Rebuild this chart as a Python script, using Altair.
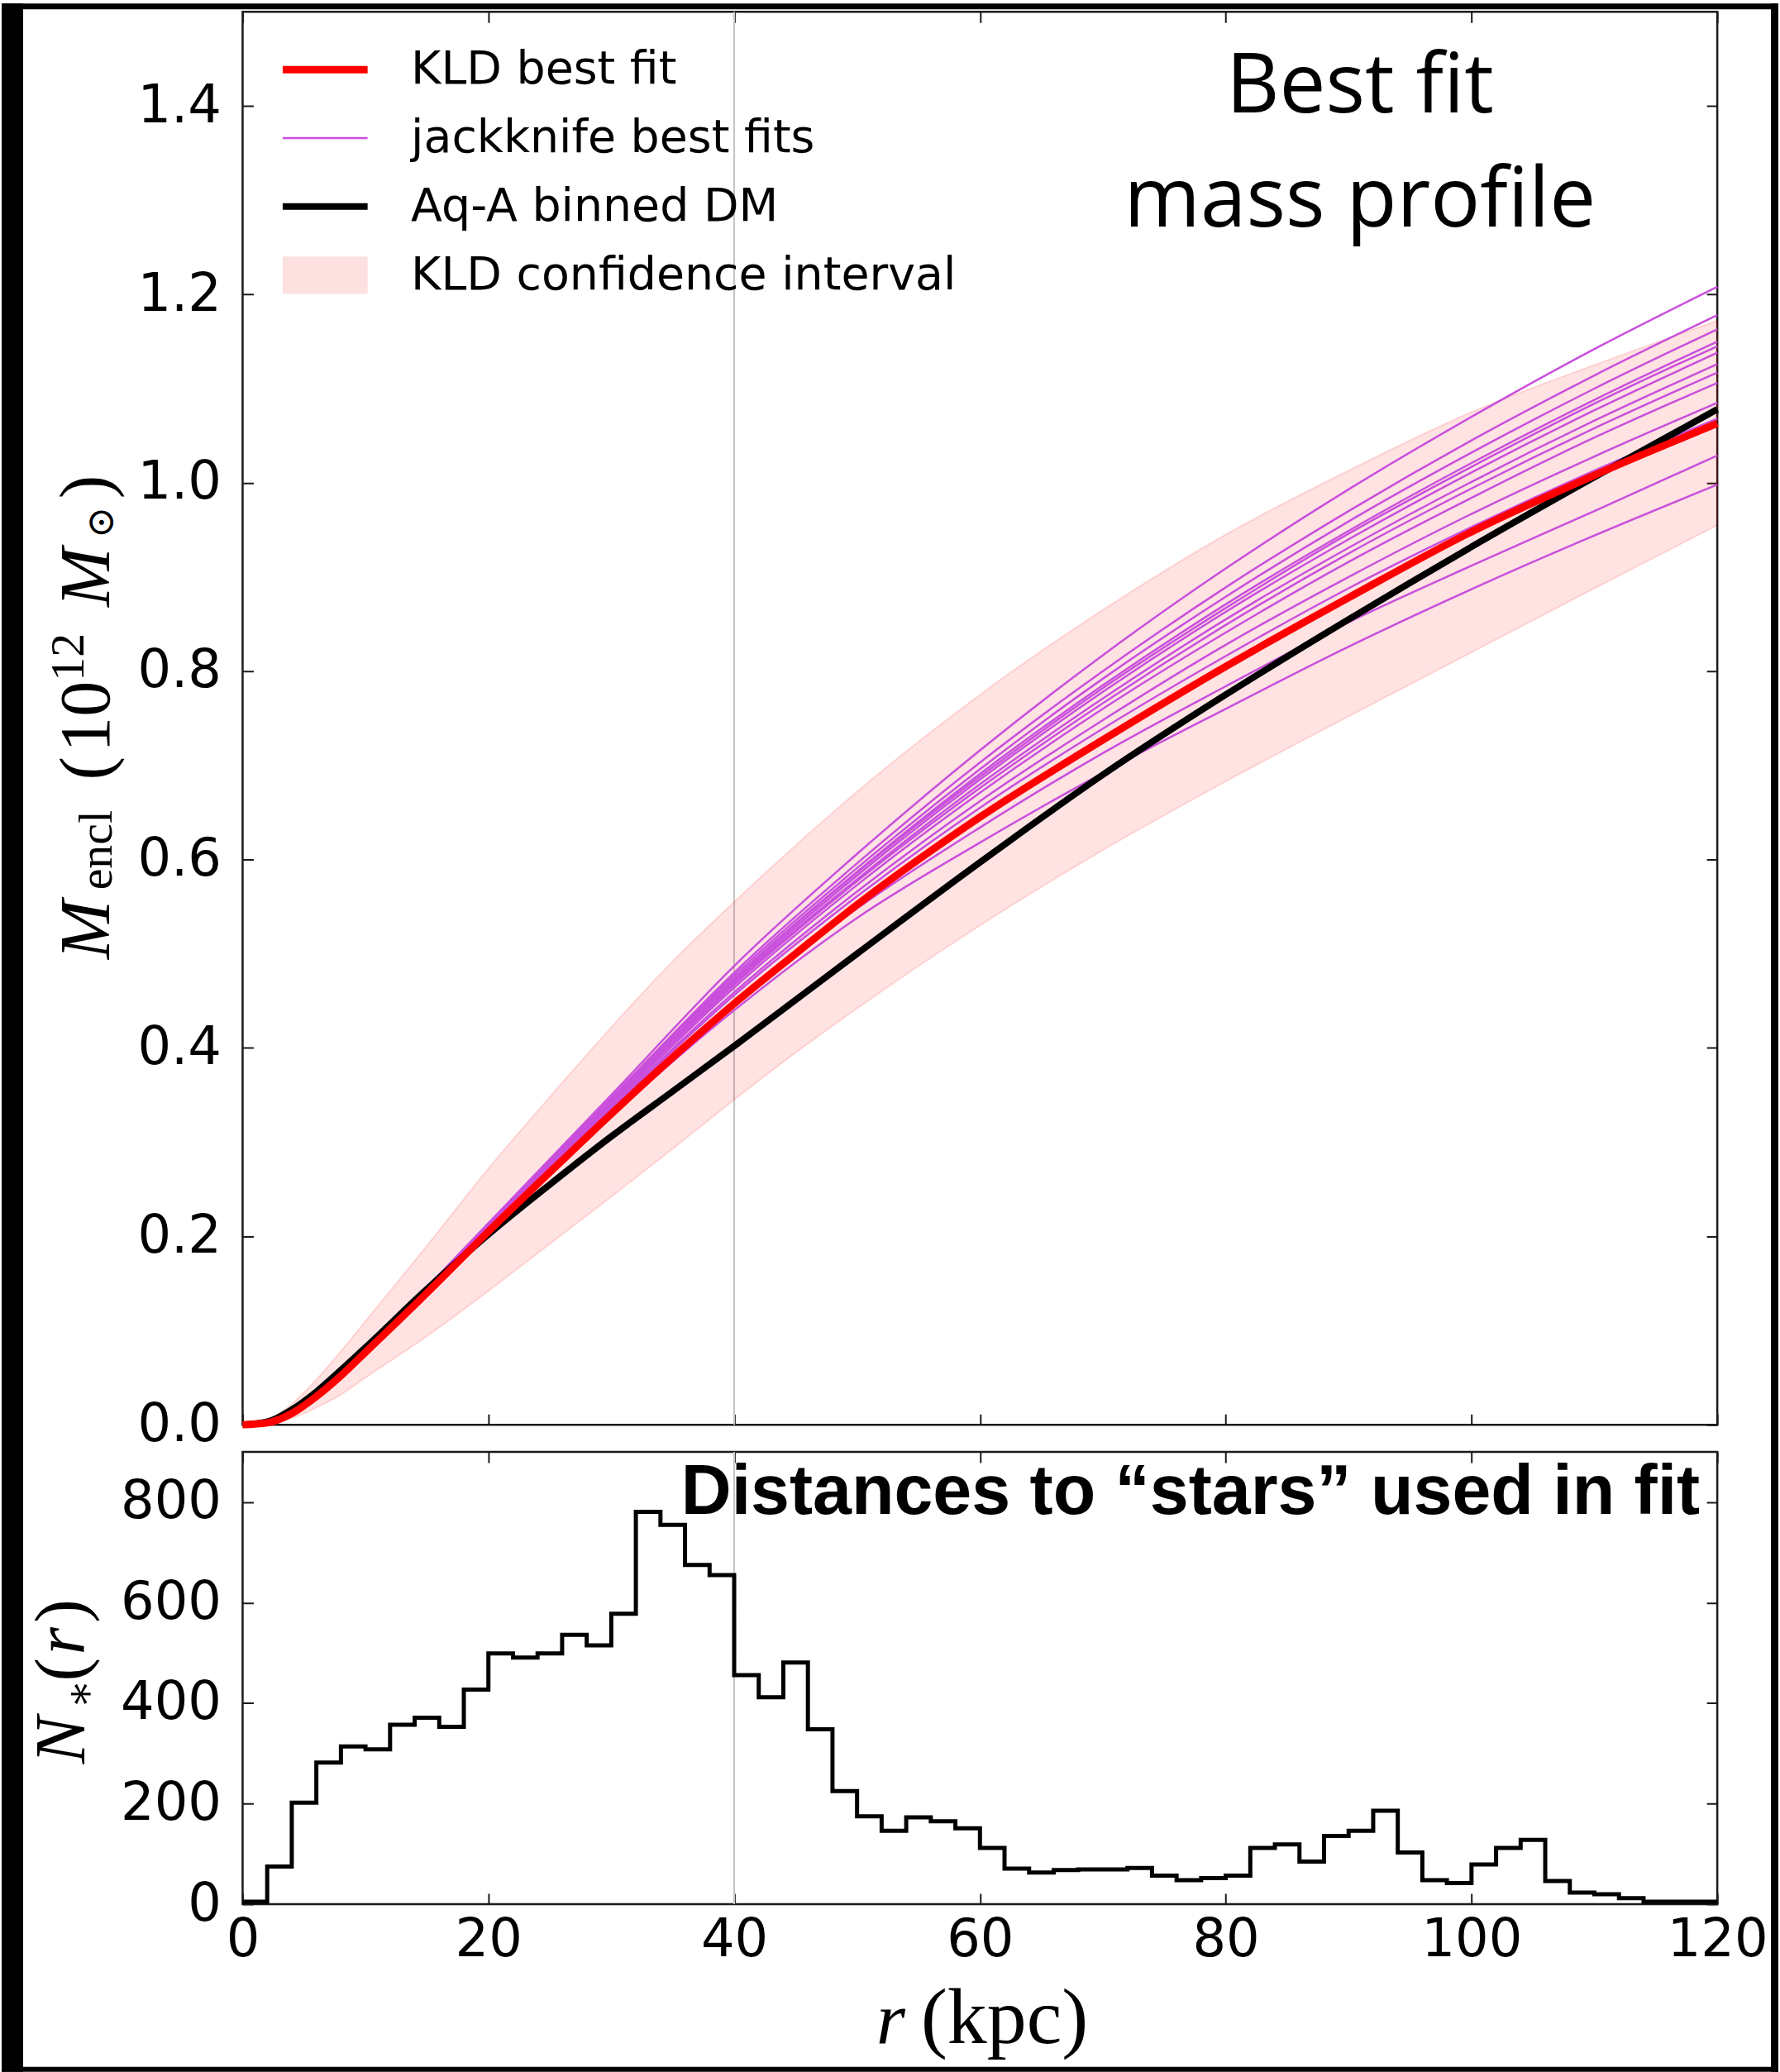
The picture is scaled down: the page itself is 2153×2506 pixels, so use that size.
import altair as alt
import pandas as pd

# ---------------- data ----------------
r_grid = [0, 2, 4, 6, 8, 10, 15, 20, 25, 30, 35, 40, 45, 50, 60, 70, 80, 90, 100, 110, 120]
kld_best_fit = [0.0, 0.002, 0.012, 0.030, 0.052, 0.077, 0.140, 0.205, 0.268, 0.330, 0.390, 0.447,
                0.500, 0.552, 0.645, 0.727, 0.805, 0.878, 0.948, 1.008, 1.063]
aq_a_binned_dm = [0.0, 0.003, 0.016, 0.035, 0.058, 0.082, 0.144, 0.202, 0.255, 0.306, 0.354, 0.402,
                  0.451, 0.500, 0.597, 0.690, 0.775, 0.855, 0.932, 1.006, 1.078]
kld_ci_low = [0.0, 0.001, 0.007, 0.018, 0.032, 0.050, 0.094, 0.142, 0.192, 0.242, 0.293, 0.345,
              0.395, 0.442, 0.530, 0.610, 0.683, 0.752, 0.820, 0.888, 0.955]
kld_ci_high = [0.0, 0.004, 0.022, 0.048, 0.078, 0.110, 0.190, 0.272, 0.348, 0.422, 0.492, 0.555,
               0.615, 0.672, 0.775, 0.865, 0.945, 1.013, 1.075, 1.125, 1.172]

jk_r = [0, 5, 10, 15, 20, 30, 40, 50, 60, 70, 80, 90, 100, 110, 120]
jk_01 = [0, 0.021, 0.080, 0.146, 0.214, 0.350, 0.487, 0.606, 0.716, 0.817, 0.909, 0.993, 1.070, 1.142, 1.208]
jk_02 = [0, 0.021, 0.080, 0.145, 0.213, 0.347, 0.480, 0.596, 0.703, 0.800, 0.889, 0.970, 1.045, 1.114, 1.178]
jk_03 = [0, 0.021, 0.079, 0.145, 0.212, 0.345, 0.477, 0.591, 0.696, 0.792, 0.879, 0.959, 1.032, 1.100, 1.163]
jk_04 = [0, 0.021, 0.079, 0.144, 0.212, 0.344, 0.474, 0.587, 0.691, 0.785, 0.871, 0.949, 1.021, 1.088, 1.150]
jk_05 = [0, 0.021, 0.079, 0.144, 0.211, 0.343, 0.473, 0.586, 0.688, 0.782, 0.867, 0.946, 1.017, 1.084, 1.145]
jk_06 = [0, 0.021, 0.079, 0.144, 0.211, 0.343, 0.471, 0.583, 0.685, 0.778, 0.863, 0.940, 1.011, 1.077, 1.138]
jk_07 = [0, 0.021, 0.079, 0.144, 0.210, 0.341, 0.469, 0.579, 0.680, 0.771, 0.855, 0.931, 1.001, 1.066, 1.126]
jk_08 = [0, 0.021, 0.079, 0.143, 0.210, 0.340, 0.467, 0.577, 0.676, 0.766, 0.849, 0.925, 0.994, 1.058, 1.117]
jk_09 = [0, 0.021, 0.079, 0.143, 0.210, 0.339, 0.464, 0.573, 0.671, 0.760, 0.841, 0.916, 0.984, 1.048, 1.106]
jk_10 = [0, 0.020, 0.078, 0.142, 0.209, 0.337, 0.459, 0.566, 0.662, 0.748, 0.828, 0.900, 0.967, 1.028, 1.085]
jk_11 = [0, 0.020, 0.078, 0.142, 0.208, 0.335, 0.456, 0.561, 0.655, 0.739, 0.816, 0.888, 0.953, 1.013, 1.068]
jk_12 = [0, 0.020, 0.077, 0.141, 0.206, 0.331, 0.447, 0.548, 0.634, 0.713, 0.784, 0.852, 0.912, 0.970, 1.029]
jk_13 = [0, 0.020, 0.077, 0.140, 0.205, 0.328, 0.440, 0.538, 0.618, 0.692, 0.760, 0.826, 0.887, 0.944, 0.998]
jackknife_fits = [jk_01, jk_02, jk_03, jk_04, jk_05, jk_06, jk_07, jk_08, jk_09, jk_10, jk_11, jk_12, jk_13]

hist_bin_left = list(range(0, 120, 2))
hist_counts = [5, 75, 202, 282, 314, 308, 357, 371, 353, 427,
               499, 491, 499, 536, 515, 578, 781, 755, 675, 655,
               456, 412, 481, 348, 225, 175, 146, 173, 165, 151,
               112, 71, 63, 68, 69, 69, 72, 57, 48, 52,
               57, 112, 119, 85, 136, 146, 186, 103, 48, 42,
               79, 112, 128, 46, 23, 20, 12, 5, 5, 5]

vline_r = [40]
x_ticks = [0, 20, 40, 60, 80, 100, 120]
m_ticks = [0.0, 0.2, 0.4, 0.6, 0.8, 1.0, 1.2, 1.4]
n_ticks = [0, 200, 400, 600, 800]
legend_labels = ["KLD best fit", "jackknife best fits", "Aq-A binned DM", "KLD confidence interval"]
legend_colors = ["#ff0000", "#c94fdc", "#000000", "#fde0e0"]
legend_widths = [9, 2.5, 8, 45]

# ---------------- tables ----------------
df_fit = pd.DataFrame({"r": r_grid, "m": kld_best_fit, "series": legend_labels[0]})
df_aq = pd.DataFrame({"r": r_grid, "m": aq_a_binned_dm, "series": legend_labels[2]})
df_ci = pd.DataFrame({"r": r_grid, "lo": kld_ci_low, "hi": kld_ci_high})
df_jk = pd.DataFrame([
    {"id": i, "r": r, "m": m, "series": legend_labels[1]}
    for i, fit in enumerate(jackknife_fits) for r, m in zip(jk_r, fit)
])
df_hist = pd.DataFrame({"r": hist_bin_left + [120], "n": hist_counts + [hist_counts[-1]]})
df_vline = pd.DataFrame({"r": vline_r})
one = pd.DataFrame({"k": [0]})

# ---------------- layout constants ----------------
W, H1, H2 = 1787, 1712, 548
TICK = 13
INK = "#1a1a1a"

xs = alt.Scale(domain=[0, 120], nice=False, zero=False)
ys_m = alt.Scale(domain=[0, 1.5], nice=False)
ys_n = alt.Scale(domain=[0, 900], nice=False)
cs = alt.Scale(domain=legend_labels, range=legend_colors)
sws = alt.Scale(type="ordinal", domain=legend_labels, range=legend_widths)

lab = dict(labelFont="DejaVu Sans", labelFontSize=64, labelColor="black", labelFlush=False,
           labelOverlap=False, ticks=False, tickSize=0, domain=False, title=None,
           grid=True, gridColor=INK, gridWidth=2, gridOpacity=1)

x_axis_top = alt.Axis(values=x_ticks, labels=False, gridDash=[TICK, H1 - 2 * TICK, TICK, 4000], **lab)
y_axis_top = alt.Axis(values=m_ticks, format=".1f", labelPadding=26,
                      gridDash=[TICK, W - 2 * TICK, TICK, 4000], **lab)
x_axis_bot = alt.Axis(values=x_ticks, format="d", labelPadding=12,
                      gridDash=[TICK, H2 - 2 * TICK, TICK, 4000], **lab)
y_axis_bot = alt.Axis(values=n_ticks, format="d", labelPadding=26,
                      gridDash=[TICK, W - 2 * TICK, TICK, 4000], **lab)

legend = alt.Legend(orient="none", legendX=48, legendY=40, title=None, symbolType="stroke",
                    symbolSize=10600, labelFont="DejaVu Sans", labelFontSize=55.5, labelColor="black",
                    labelLimit=2000, labelOffset=30, symbolOffset=-22, rowPadding=23, clipHeight=60,
                    padding=0)

X_TOP = alt.X("r:Q", scale=xs, axis=x_axis_top)
X_BOT = alt.X("r:Q", scale=xs, axis=x_axis_bot)


def box(x1, x2, y1, y2):
    return alt.Chart(one).mark_rect(color="black").encode(
        x=alt.value(x1), x2=alt.value(x2), y=alt.value(y1), y2=alt.value(y2))


def txt(s, x, y, size, font="Liberation Serif", style="normal", weight="normal",
        angle=0, align="left"):
    return alt.Chart(one).mark_text(
        fontSize=size, font=font, fontStyle=style, fontWeight=weight, angle=angle,
        align=align, baseline="alphabetic", color="black"
    ).encode(x=alt.value(x), y=alt.value(y), text=alt.value(s))


def curve(df, with_detail=False):
    enc = dict(
        x=X_TOP,
        y=alt.Y("m:Q", scale=ys_m, axis=y_axis_top),
        color=alt.Color("series:N", scale=cs, legend=legend),
        strokeWidth=alt.StrokeWidth("series:O", scale=sws, legend=legend),
    )
    if with_detail:
        enc["detail"] = "id:N"
    return alt.Chart(df).mark_line(interpolate="monotone").encode(**enc)


# black frame around the figure
frame = [
    box(-292, -266, -10, 2496),
    box(-292, 1861, -10, -3),
    box(1852, 1861, -10, 2496),
    box(-292, 1861, 2490, 2496),
]

vline_top = alt.Chart(df_vline).mark_rule(color="#c4c4c4", strokeWidth=2).encode(x=X_TOP)

band = alt.Chart(df_ci).mark_area(
    color="#ff0000", fillOpacity=0.11, stroke="#ff0000", strokeOpacity=0.13, strokeWidth=2,
    interpolate="monotone"
).encode(
    x=X_TOP,
    y=alt.Y("lo:Q", scale=ys_m, axis=y_axis_top),
    y2="hi:Q",
)

jk = curve(df_jk, with_detail=True)
aq = curve(df_aq)
fit = curve(df_fit)

# y-axis title of the top panel: M_encl (10^12 M_sun), rotated
m_title = [
    txt("M", -162, 1148, 86, style="italic", angle=270),
    txt("encl", -159, 1064, 58, angle=270),
    txt("(", -162, 931, 86, angle=270),
    txt("10", -162, 897, 86, angle=270),
    txt("12", -193, 811, 58, angle=270),
    txt("M", -162, 721, 86, style="italic", angle=270),
    txt("\u2299", -157, 638, 46, font="DejaVu Serif", angle=270),
    txt(")", -162, 590, 86, angle=270),
]

headline = alt.Chart(one).mark_text(
    font="Open Sans", fontSize=100, align="center", baseline="alphabetic", lineHeight=138,
    color="black"
).encode(x=alt.value(1354), y=alt.value(122), text=alt.value(["Best fit", "mass profile"]))

top = alt.layer(*frame, vline_top, band, jk, aq, fit, *m_title, headline).properties(
    width=W, height=H1)

# ---------------- bottom panel ----------------
vline_bot = alt.Chart(df_vline).mark_rule(color="#c4c4c4", strokeWidth=2).encode(x=X_BOT)

hist = alt.Chart(df_hist).mark_line(interpolate="step-after", color="black", strokeWidth=5).encode(
    x=X_BOT,
    y=alt.Y("n:Q", scale=ys_n, axis=y_axis_bot),
)

hist_title = txt("Distances to \u201cstars\u201d used in fit", 1766, 75, 84.5,
                 font="Liberation Sans", weight="bold", align="right")

n_title = [
    txt("N", -192, 378, 86, style="italic", angle=270),
    txt("\u2217", -180, 311, 52, font="DejaVu Serif", angle=270),
    txt("(", -192, 278, 86, angle=270),
    txt("r", -192, 246, 86, style="italic", angle=270),
    txt(")", -192, 207, 86, angle=270),
]

x_title = [
    txt("r", 768, 716, 90, style="italic"),
    txt("(kpc)", 822, 716, 96),
]

bottom = alt.layer(vline_bot, hist, hist_title, *n_title, *x_title).properties(width=W, height=H2)

chart = alt.vconcat(top, bottom, spacing=33, bounds="flush").resolve_scale(
    color="independent", strokeWidth="independent"
).properties(padding=0, background="white").configure_view(stroke=INK, strokeWidth=2.5)

chart.save("out.html", embed_options={"renderer": "svg", "actions": False})
